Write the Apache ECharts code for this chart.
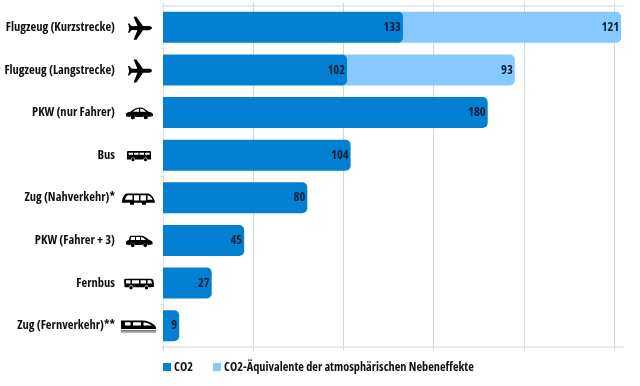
<!DOCTYPE html>
<html><head><meta charset="utf-8">
<style>html,body{margin:0;padding:0;background:#fff}#c{width:640px;height:386px}</style>
<script src="https://cdn.jsdelivr.net/npm/echarts@6/dist/echarts.min.js"></script>
</head><body><div id="c"></div>
<script>
const categories = ['Flugzeug (Kurzstrecke)','Flugzeug (Langstrecke)','PKW (nur Fahrer)','Bus','Zug (Nahverkehr)*','PKW (Fahrer + 3)','Fernbus','Zug (Fernverkehr)**'];
const co2 = [133,102,180,104,80,45,27,9];
const nebeneffekte = [121,93,null,null,null,null,null,null];
const xTicks = [0,50,100,150,200,250];
const seriesNames = ['CO2','CO2-Äquivalente der atmosphärischen Nebeneffekte'];
const FONT = '"Open Sans",sans-serif';
const WEIGHT = 'bold condensed';
const DARK = '#0480d2', LIGHT = '#86c9fe', INK = '#0b1f3a';

const plane = [['M24 11 C24 9.8 22 9.2 20 9.2 L15 9.2 L8.4 0 L5.6 0 L9.4 9.2 L3.6 9.4 L1.4 6.6 L0 6.6 L1.2 11.4 L0 16 L1.4 16 L3.6 13.2 L9.4 13.4 L5.6 23 L8.4 23 L15 13.4 L20 13.4 C22 13.4 24 12.4 24 11 Z','#000']];
const car = [['M0 7 C0 5 2 4.6 5 4 C8 1 11 0 14 0 C17 0 20 2 22 4 C25 4.5 27 5.5 27 7 L27 8.4 L22.5 9.4 A3 3 0 0 0 17 9.4 L9.5 9.4 A3 3 0 0 0 4 9.4 L0.4 9 Z','#000'],['M7 4.2 C9 2 11 1.2 13 1.2 L13 4.2 Z M14.2 1.2 C16.4 1.2 18.5 2.4 20 4.2 L14.2 4.2 Z','#fff'],['M4.6 9.4 a2.2 2.2 0 1 0 4.4 0 a2.2 2.2 0 1 0 -4.4 0 Z M17.6 9.4 a2.2 2.2 0 1 0 4.4 0 a2.2 2.2 0 1 0 -4.4 0 Z','#000']];
const bus = [['M1 0 L23 0 Q24 0 24 1 L24 8.6 L20.5 8.6 A2 2 0 0 0 16.5 8.6 L8 8.6 A2 2 0 0 0 4 8.6 L0 8.6 L0 1 Q0 0 1 0 Z','#000'],['M1.6 1.8 L6 1.8 L6 3.8 L1.6 3.8 Z M7 1.8 L11.5 1.8 L11.5 3.8 L7 3.8 Z M12.5 1.8 L17 1.8 L17 3.8 L12.5 3.8 Z M18 1.8 L22.6 1.8 L22.6 3.8 L18 3.8 Z','#fff'],['M4.4 8.8 a1.6 1.6 0 1 0 3.2 0 a1.6 1.6 0 1 0 -3.2 0 Z M16.9 8.8 a1.6 1.6 0 1 0 3.2 0 a1.6 1.6 0 1 0 -3.2 0 Z','#000']];
const tram = [['M0 10 C0 5 2 1 5 0.6 L26 0.6 C29 1 33 6 33 10 L24 10 L24 12 L20 12 L20 10 L12 10 L12 12 L8 12 L8 10 Z','#000'],['M3.2 7 C3.4 5 4.4 2.8 6 2.4 L10.5 2.4 L10.5 7 Z M12 2.4 L17 2.4 L17 7.6 L12 7.6 Z M18.5 2.4 L24 2.4 L24 7.6 L18.5 7.6 Z M25.5 2.4 C28 2.6 30 5 30.6 7 L25.5 7 Z','#fff']];
const van = [['M0 7 C0 5 1.5 4.6 3 4 L3.6 1 Q4 0 6 0 L16 0 C18 0 21 2.4 23 4 C25 4.6 26.6 5.4 26.6 7.2 L26.6 8.6 L22 9.4 A3 3 0 0 0 16.6 9.4 L9.4 9.4 A3 3 0 0 0 4 9.4 L0.4 9 Z','#000'],['M5 1.4 L9 1.4 L9 4.2 L4.6 4.2 Z M10 1.4 L14 1.4 L14 4.2 L10 4.2 Z M15 1.4 C17 1.6 18.6 3 19.8 4.2 L15 4.2 Z','#fff'],['M4.6 9.4 a2.1 2.1 0 1 0 4.2 0 a2.1 2.1 0 1 0 -4.2 0 Z M17.2 9.4 a2.1 2.1 0 1 0 4.2 0 a2.1 2.1 0 1 0 -4.2 0 Z','#000']];
const coach = [['M1 0 L27 0 Q29 0 29.5 2 L30 8 L27 8.6 L24.5 8.6 A2 2 0 0 0 20.5 8.6 L9 8.6 A2 2 0 0 0 5 8.6 L0.6 8.6 L0 2 Q0 0 1 0 Z','#000'],['M2 1.6 L6.5 1.6 L6.5 4.8 L2 4.8 Z M8 1.6 L15 1.6 L15 4.8 L8 4.8 Z M16.5 1.6 L22 1.6 L22 4.8 L16.5 4.8 Z M23.5 1.6 L27 1.6 L28 4.8 L23.5 4.8 Z','#fff'],['M5.3 9 a1.7 1.7 0 1 0 3.4 0 a1.7 1.7 0 1 0 -3.4 0 Z M20.8 9 a1.7 1.7 0 1 0 3.4 0 a1.7 1.7 0 1 0 -3.4 0 Z','#000']];
const train = [['M0 0 L22 0 C29 0.6 34 4 35 7 L35 8.4 L0 8.4 Z','#000'],['M4 1.6 L9.5 1.6 L9.5 5 L4 5 Z M12 1.6 L20 1.6 L20 5 L12 5 Z M22.5 1.6 C26 2 29 3.4 31 5 L22.5 5 Z','#fff'],['M0 9.6 L35 9.6 L35 10.8 L0 10.8 Z','#444'],['M0 11.2 L35 11.2 L35 12.2 L0 12.2 Z','#999']];
const icons = [
  {p:plane,x:128},{p:plane,x:128},{p:car,x:126},{p:bus,x:127},
  {p:tram,x:122},{p:van,x:126},{p:coach,x:124},{p:train,x:121}
];
const iconH = [23,23,12,10.6,12,11.5,10.7,12.2];

const chart = echarts.init(document.getElementById('c'), null, {renderer:'canvas'});
const hiddenAxisBase = {
  type:'value', min:0, max:255,
  axisLabel:{show:false},
  axisLine:{show:true,lineStyle:{color:'#e2e2e2',width:1.5}},
  axisTick:{show:true,length:3,inside:false,lineStyle:{color:'#d4d4d4'},customValues:xTicks}
};
chart.setOption({
  animation:false,
  backgroundColor:'#fff',
  textStyle:{fontFamily:FONT},
  grid:{left:163,right:17,top:6,bottom:39,containLabel:false,outerBoundsMode:'none'},
  legend:{
    left:163, top:361, itemWidth:8, itemHeight:8, itemGap:20,
    icon:'rect', padding:0, selectedMode:false,
    textStyle:{fontFamily:FONT,fontWeight:WEIGHT,fontSize:12.3,color:'#111',padding:[0,0,0,-2]},
    data:seriesNames
  },
  xAxis:[
    Object.assign({},hiddenAxisBase,{position:'bottom',
      splitLine:{show:true,lineStyle:{color:'#d6d6d6',width:1}}}),
    Object.assign({},hiddenAxisBase,{position:'top',splitLine:{show:false}})
  ],
  yAxis:{
    type:'category', inverse:true, data:categories,
    axisLine:{show:true,lineStyle:{color:'#e2e2e2'}},
    axisTick:{show:true,length:2,lineStyle:{color:'#e2e2e2'}},
    axisLabel:{margin:48,fontFamily:FONT,fontWeight:WEIGHT,fontSize:12.5,color:'#111'}
  },
  series:[
    {
      name:seriesNames[1], type:'custom', z:2,
      itemStyle:{color:LIGHT},
      encode:{x:[1,2],y:0},
      data:categories.map((c,i)=>[c,co2[i],nebeneffekte[i]]).filter(d=>d[2]!=null),
      renderItem(params,api){
        const cat = api.value(0);
        const s = api.coord([api.value(1),cat]);
        const e = api.coord([api.value(1)+api.value(2),cat]);
        const h = 31;
        const left = s[0]-6;
        return {type:'group',children:[
          {type:'rect',shape:{x:left,y:s[1]-h/2,width:e[0]-left,height:h,r:[0,5,5,0]},style:{fill:LIGHT}},
          {type:'text',z2:5,style:{x:e[0]-2,y:s[1],text:String(api.value(2)),align:'right',verticalAlign:'middle',
            fill:INK,font:WEIGHT+' 12.5px '+FONT}}
        ]};
      }
    },
    {
      name:seriesNames[0], type:'bar', z:3, barWidth:31, data:co2,
      itemStyle:{color:DARK,borderRadius:[0,5,5,0]},
      label:{show:true,position:'insideRight',distance:2,color:INK,fontFamily:FONT,fontWeight:WEIGHT,fontSize:12.5}
    }
  ]
});
const gfx = [];
categories.forEach((c,i)=>{
  const cy = chart.convertToPixel({yAxisIndex:0},i);
  icons[i].p.forEach((part,j)=>{
    const name='ic_'+i+'_'+j;
    echarts.graphic.registerShape(name,echarts.graphic.extendPath(part[0],{}));
    gfx.push({type:name,silent:true,x:icons[i].x,y:cy-iconH[i]/2+1,style:{fill:part[1]}});
  });
});
chart.setOption({graphic:gfx});
</script></body></html>
